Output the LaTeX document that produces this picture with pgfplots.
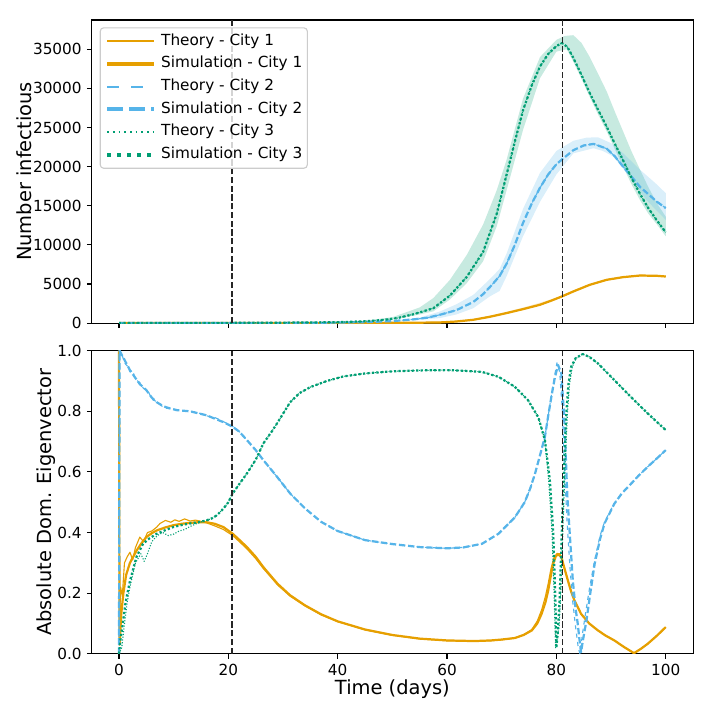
\documentclass[border=0pt]{standalone}
\usepackage{fontspec}
\setmainfont{DejaVu Sans}
\usepackage{pgfplots}
\usepackage{pgfplotstable}
\pgfplotsset{compat=1.18}
\usepgfplotslibrary{fillbetween}
\definecolor{cOra}{HTML}{E69F00}
\definecolor{cBlu}{HTML}{56B4E9}
\definecolor{cGrn}{HTML}{009E73}

% ---------- top panel: number infectious ----------
\pgfplotstableread{
t v
0 0
10 10
20 25
30 50
40 110
45 230
48 380
51 650
54 1150
57.5 1900
60.5 3500
63.6 5900
66.6 9100
69.1 14000
70.9 19000
72.4 23200
73.9 27200
75.5 30400
77.0 32800
78.5 34400
80.0 35400
81.0 35800
82.0 35300
83.1 33900
84.6 31700
86.1 29400
87.6 27300
89.2 25100
90.7 22900
92.2 20800
93.7 18600
95.3 16500
96.8 14700
98.4 13100
100 11600
}\gMean
\pgfplotstableread{
t v
0 0
40 130
45 300
50 750
55 2000
57.5 3200
60.5 5500
63.6 8700
66.6 12600
69.1 17000
70.9 20900
73.9 28700
77.0 34000
80.0 36200
81.5 36700
83.1 36800
84.6 35800
86.1 34000
87.6 31900
89.2 29600
90.7 27000
92.2 24500
93.7 22000
95.3 19600
96.8 17400
98.4 15300
100 13600
}\gUp
\pgfplotstableread{
t v
0 0
40 90
45 180
50 450
55 1100
57.5 1500
60.5 3000
63.6 5100
66.6 7900
69.1 12400
70.9 17000
73.9 24700
77.0 31300
80.0 34700
81.9 35000
83.1 33400
84.6 31200
86.1 28900
87.6 26700
89.2 24500
90.7 22200
92.2 20000
93.7 17800
95.3 15700
96.8 14000
98.4 12600
100 11100
}\gLo
\pgfplotstableread{
t v
0 0
10 5
20 10
30 25
40 60
45 120
50 250
54 480
56.5 700
58.7 1060
61.7 1650
64.8 2700
66.6 3700
68.1 4800
69.6 6000
70.9 7600
72.4 10000
73.9 12800
75.5 15300
77.0 17300
78.5 19000
80.0 20300
81.0 20900
83.1 22100
85.0 22700
86.8 22900
89.2 22300
90.7 21300
92.2 20000
95.3 17400
98.4 15500
100 14700
}\bMean
\pgfplotstableread{
t v
0 0
40 70
50 320
55 700
58.7 1480
61.7 2400
64.8 3600
67.8 5600
69.6 6900
70.9 8900
73.9 14600
77.0 19200
80.0 22000
83.1 23300
85.5 23700
87.6 23750
90.0 23000
92.2 21700
95.3 19600
98.4 17700
100 16600
}\bUp
\pgfplotstableread{
t v
0 0
40 50
50 200
55 420
58.7 640
61.7 1100
64.8 1900
67.8 3400
69.6 4100
70.9 6000
73.9 11100
77.0 15500
80.0 19000
83.1 21700
86.8 22350
88.5 22000
90.4 21300
93.4 18700
96.5 15700
100 13200
}\bLo
\pgfplotstableread{
t v
0 0
20 2
40 10
50 30
55 50
58.7 80
61.7 200
64.8 420
67.8 800
70.9 1280
74.0 1800
77.0 2340
79.0 2850
81.0 3400
83.1 4040
86.1 4890
89.2 5530
92.2 5870
95.3 6080
98.4 6040
100 5950
}\oMean
\pgfplotstableread{
t v
0 0
50 40
58.7 100
64.8 480
70.9 1450
74.0 2000
77.0 2600
80.0 3250
83.1 4200
86.1 5000
89.2 5600
92.2 5920
95.3 6120
100 6020
}\oUp
\pgfplotstableread{
t v
0 0
50 25
58.7 70
64.8 380
70.9 1230
74.0 1750
77.0 2280
80.0 3080
83.1 3980
86.1 4820
89.2 5470
92.2 5820
95.3 6030
100 5900
}\oLo

% ---------- bottom panel: absolute dominant eigenvector ----------
\pgfplotstableread{
t v
0 1.0
0.1 0.03
0.4 0.13
0.8 0.20
1.3 0.26
2.0 0.30
3.2 0.34
4.0 0.362
5.0 0.385
6.0 0.398
6.9 0.407
8.5 0.417
9.9 0.424
11.5 0.429
13.0 0.432
14.5 0.434
16.0 0.434
17.5 0.429
19.1 0.418
20.8 0.396
22.0 0.376
23.4 0.352
25.0 0.320
26.4 0.286
28.0 0.252
29.0 0.231
31.3 0.193
34 0.160
37 0.130
40 0.107
45 0.080
50 0.062
55 0.050
60 0.044
65 0.042
68 0.044
70 0.047
72.4 0.052
74 0.062
75.5 0.077
76.5 0.100
77.3 0.132
78.0 0.170
78.5 0.209
79.0 0.260
79.4 0.297
79.9 0.322
80.3 0.328
80.9 0.320
81.5 0.280
82.1 0.242
82.7 0.205
83.3 0.176
84.5 0.132
86 0.100
87.6 0.077
89 0.060
90.6 0.044
92.4 0.022
94.2 0.002
95.5 0.017
96.7 0.033
98.4 0.060
100 0.088
}\eOsim
\pgfplotstableread{
t v
0 1.0
0.1 0.10
0.3 0.22
0.6 0.19
1.0 0.30
1.5 0.32
2.0 0.335
2.5 0.31
3.0 0.35
3.8 0.385
4.5 0.37
5.2 0.40
6.0 0.405
6.9 0.418
7.5 0.43
8.5 0.44
9.5 0.434
10.2 0.442
11.0 0.437
12.0 0.445
13.0 0.438
14.0 0.441
15.0 0.437
16.0 0.432
17.5 0.422
19.1 0.41
20.8 0.39
22.0 0.37
23.4 0.346
25.0 0.314
26.4 0.281
28.0 0.248
29.0 0.227
31.3 0.19
34 0.158
37 0.128
40 0.106
45 0.079
50 0.061
55 0.049
60 0.043
65 0.041
68 0.043
70 0.046
72.4 0.052
74 0.063
75.5 0.080
76.5 0.108
77.3 0.145
78.0 0.190
78.5 0.232
79.0 0.280
79.5 0.315
80.1 0.331
80.6 0.330
80.9 0.320
81.5 0.280
82.1 0.242
82.7 0.205
83.3 0.176
84.5 0.132
86 0.100
87.6 0.077
89 0.060
90.6 0.044
92.4 0.022
94.2 0.002
95.5 0.017
96.7 0.033
98.4 0.060
100 0.088
}\eOth
\pgfplotstableread{
t v
0 0.0
0.1 1.0
0.7 0.98
2.0 0.936
3.0 0.91
3.8 0.89
5.0 0.87
6.0 0.845
6.9 0.83
8.0 0.818
8.7 0.813
10.5 0.804
13.0 0.80
16.0 0.787
19.0 0.765
20.8 0.749
22.0 0.733
23.4 0.705
25.0 0.672
26.4 0.639
28.0 0.604
28.9 0.584
31.3 0.529
34 0.48
37 0.435
40 0.405
45 0.375
50 0.362
55 0.352
60 0.348
63 0.351
66.4 0.363
69.4 0.396
72.4 0.45
74.2 0.50
75.2 0.545
76.1 0.595
77.0 0.655
77.9 0.716
78.5 0.785
79.1 0.85
79.7 0.91
80.3 0.953
80.9 0.925
81.4 0.79
81.7 0.66
82.0 0.52
82.5 0.38
83.0 0.242
83.5 0.15
83.9 0.10
84.2 0.05
84.5 0.005
85.0 0.06
85.5 0.11
86.2 0.20
87.0 0.297
88.0 0.38
88.8 0.43
90.6 0.495
92.0 0.53
93.6 0.56
95.0 0.587
96.7 0.617
98.4 0.645
100 0.672
}\eBsim
\pgfplotstableread{
t v
0 0.0
0.1 1.0
0.5 0.99
1.0 0.96
1.5 0.95
2.0 0.93
2.5 0.935
3.0 0.905
3.8 0.895
4.5 0.875
5.0 0.872
5.5 0.86
6.0 0.84
6.9 0.832
8.0 0.815
8.7 0.81
10.5 0.806
12 0.80
13.0 0.801
14.5 0.795
16.0 0.785
17.5 0.78
19.0 0.767
20.8 0.75
22.0 0.733
23.4 0.705
25.0 0.672
26.4 0.639
28.0 0.604
28.9 0.584
31.3 0.529
34 0.48
37 0.435
40 0.405
45 0.375
50 0.362
55 0.352
60 0.348
63 0.351
66.4 0.363
69.4 0.396
72.4 0.45
74.2 0.50
75.2 0.545
76.1 0.595
77.0 0.655
77.9 0.716
78.5 0.785
79.1 0.855
79.7 0.92
80.1 0.96
80.6 0.93
81.1 0.80
81.5 0.60
82.0 0.42
82.5 0.28
83.0 0.17
83.5 0.09
84.0 0.02
84.3 0.0
84.8 0.07
85.3 0.13
86.0 0.21
87.0 0.31
88.0 0.39
88.8 0.435
90.6 0.497
92.0 0.53
93.6 0.56
95.0 0.587
96.7 0.617
98.4 0.645
100 0.672
}\eBth
\pgfplotstableread{
t v
0 0.0
0.3 0.05
0.7 0.10
1.2 0.17
2.0 0.24
2.6 0.28
3.2 0.32
4.4 0.363
5.5 0.38
6.9 0.396
8.5 0.408
9.9 0.418
11.5 0.425
13.0 0.43
14.5 0.434
16.0 0.44
17.0 0.447
17.9 0.457
19.1 0.479
20.0 0.50
20.8 0.529
22.0 0.56
23.4 0.595
25.0 0.64
26.4 0.694
28.0 0.735
28.9 0.76
31.3 0.83
33 0.86
35 0.88
38 0.90
41 0.915
45 0.925
50 0.932
55 0.935
60 0.936
63 0.934
66.4 0.93
69.4 0.914
72.4 0.881
74.8 0.837
76.7 0.78
77.9 0.705
78.8 0.573
79.4 0.407
79.8 0.187
80.0 0.02
80.3 0.08
80.6 0.187
80.9 0.35
81.2 0.52
81.5 0.66
81.8 0.79
82.2 0.89
82.7 0.947
83.5 0.975
84.8 0.989
86 0.98
87.6 0.958
90.6 0.903
93.6 0.848
96.7 0.793
100 0.738
}\eGsim
\pgfplotstableread{
t v
0 0.0
0.5 0.02
1.0 0.10
1.5 0.17
2.0 0.22
3.0 0.30
4.0 0.33
4.6 0.305
5.2 0.33
6.0 0.37
7.0 0.39
8.0 0.40
9.0 0.39
10.0 0.395
11.0 0.405
12.0 0.41
13.0 0.42
14.0 0.428
15.0 0.435
16.0 0.44
17.0 0.447
17.9 0.457
19.1 0.479
20.0 0.50
20.8 0.529
22.0 0.56
23.4 0.595
25.0 0.64
26.4 0.694
28.0 0.735
28.9 0.76
31.3 0.83
33 0.86
35 0.88
38 0.90
41 0.915
45 0.925
50 0.932
55 0.935
60 0.936
63 0.934
66.4 0.93
69.4 0.914
72.4 0.881
74.8 0.837
76.7 0.78
77.9 0.705
78.6 0.57
79.2 0.40
79.6 0.187
79.85 0.02
80.5 0.09
80.8 0.20
81.1 0.36
81.4 0.52
81.7 0.66
82.0 0.79
82.4 0.89
82.9 0.947
83.6 0.975
84.8 0.989
86 0.98
87.6 0.958
90.6 0.903
93.6 0.848
96.7 0.793
100 0.738
}\eGth

\pgfplotsset{
  myaxis/.style={
    scale only axis, width=433pt, height=218.2pt,
    xmin=-5, xmax=105, xtick={0,20,40,60,80,100},
    tick align=outside, tick pos=left, major tick length=3.5pt,
    every tick/.style={black, line width=0.8pt},
    axis line style={line width=0.8pt, black},
    /pgf/number format/assume math mode=true,
    tick label style={font=\fontsize{11}{13}\selectfont},
    label style={font=\fontsize{14}{17}\selectfont},
    xticklabel style={anchor=north, inner sep=0pt, yshift=-3.7pt},
    yticklabel style={anchor=east, inner sep=0pt, xshift=-3.5pt},
  },
  thO/.style={color=cOra, line width=0.8pt, line join=round,
    legend image code/.code={\path[draw=cOra, draw opacity=1, line width=1.6pt, solid] (0pt,0.2pt) -- (34pt,0.2pt);}},
  siO/.style={color=cOra, line width=1.6pt, line join=round,
    legend image code/.code={\draw[draw=cOra, line width=2.9pt, solid] (0pt,0pt) -- (34pt,0pt);}},
  thB/.style={color=cBlu, line width=0.8pt, line join=round, dash pattern=on 3pt off 3pt,
    legend image code/.code={\draw[draw=cBlu, line width=1.2pt, dash pattern=on 8.4pt off 8.9pt] (0pt,0pt) -- (34pt,0pt);}},
  siB/.style={color=cBlu, line width=1.6pt, line join=round, dash pattern=on 4.6pt off 2pt,
    legend image code/.code={\draw[draw=cBlu, line width=2.9pt, dash pattern=on 11.1pt off 4.8pt] (0pt,0pt) -- (34pt,0pt);}},
  thG/.style={color=cGrn, line width=0.8pt, line join=round, dash pattern=on 0.8pt off 1.2pt,
    legend image code/.code={\draw[draw=cGrn, line width=1.2pt, dash pattern=on 1.2pt off 2.9pt] (0pt,0pt) -- (34pt,0pt);}},
  siG/.style={color=cGrn, line width=1.6pt, line join=round, dash pattern=on 1.6pt off 1.6pt,
    legend image code/.code={\draw[draw=cGrn, line width=2.9pt, dash pattern=on 2.9pt off 4.3pt] (0pt,0pt) -- (34pt,0pt);}},
  vref/.style={black!85, line width=1.2pt, dash pattern=on 4.4pt off 1.9pt, forget plot},
}

\begin{document}
\begin{tikzpicture}
\begin{axis}[myaxis,
  at={(0pt,0pt)}, anchor=north west,
  ymin=0, ymax=38740,
  ytick={0,5000,10000,15000,20000,25000,30000,35000},
  scaled y ticks=false,
  yticklabel style={/pgf/number format/1000 sep={}},
  xticklabels={},
  ylabel={Number infectious},
  ylabel style={at={(axis description cs:-0.1003,0.5)}, anchor=base},
  legend style={at={(0.0133,0.976)}, anchor=north west, draw=black!20, line width=0.8pt,
    rounded corners=2.5pt, fill=white, fill opacity=0.8, text opacity=1,
    font=\fontsize{11}{13}\selectfont, inner xsep=3.6pt, inner ysep=4.3pt, row sep=5.3pt,
    nodes={inner sep=0pt, text height=8.3pt, text depth=2.7pt},
    /tikz/every odd column/.append style={column sep=3.4pt},
    /tikz/every even column/.append style={column sep=5pt}},
  legend cell align=left,
]
% bands
\addplot[draw=none, name path=oU, forget plot] table[x=t,y=v] {\oUp};
\addplot[draw=none, name path=oL, forget plot] table[x=t,y=v] {\oLo};
\addplot[fill=cOra, fill opacity=0.22, draw=none, forget plot] fill between[of=oU and oL];
\addplot[draw=none, name path=gU, forget plot] table[x=t,y=v] {\gUp};
\addplot[draw=none, name path=gL, forget plot] table[x=t,y=v] {\gLo};
\addplot[fill=cGrn, fill opacity=0.22, draw=none, forget plot] fill between[of=gU and gL];
\addplot[draw=none, name path=bU, forget plot] table[x=t,y=v] {\bUp};
\addplot[draw=none, name path=bL, forget plot] table[x=t,y=v] {\bLo};
\addplot[fill=cBlu, fill opacity=0.22, draw=none, forget plot] fill between[of=bU and bL];
% lines
\addplot[thO] table[x=t,y=v] {\oMean};
\addlegendentry{Theory - City 1}
\addplot[siO] table[x=t,y=v] {\oMean};
\addlegendentry{Simulation - City 1}
\addplot[thB] table[x=t,y=v] {\bMean};
\addlegendentry{Theory - City 2}
\addplot[siB] table[x=t,y=v] {\bMean};
\addlegendentry{Simulation - City 2}
\addplot[thG] table[x=t,y=v] {\gMean};
\addlegendentry{Theory - City 3}
\addplot[siG] table[x=t,y=v] {\gMean};
\addlegendentry{Simulation - City 3}
\addplot[vref] coordinates {(20.7,0) (20.7,38740)};
\addplot[vref] coordinates {(81.1,0) (81.1,38740)};
\end{axis}

\begin{axis}[myaxis,
  at={(0pt,-238.1pt)}, anchor=north west,
  ymin=0, ymax=1,
  ytick={0,0.2,0.4,0.6,0.8,1},
  yticklabel style={/pgf/number format/.cd, fixed, fixed zerofill, precision=1},
  xticklabels={0,20,40,60,80,100},
  xlabel={Time (days)},
  xlabel style={at={(axis description cs:0.5,-0.1355)}, anchor=base},
  ylabel={Absolute Dom. Eigenvector},
  ylabel style={at={(axis description cs:-0.0666,0.5)}, anchor=base},
]
\addplot[thO] table[x=t,y=v] {\eOth};
\addplot[siO] table[x=t,y=v] {\eOsim};
\addplot[thB] table[x=t,y=v] {\eBth};
\addplot[siB] table[x=t,y=v] {\eBsim};
\addplot[thG] table[x=t,y=v] {\eGth};
\addplot[siG] table[x=t,y=v] {\eGsim};
\addplot[vref] coordinates {(20.7,0) (20.7,1)};
\addplot[vref] coordinates {(81.1,0) (81.1,1)};
\end{axis}
\pgfresetboundingbox
\path[use as bounding box] (-66.0pt,14.4pt) rectangle (453.1pt,-501.8pt);
\end{tikzpicture}
\end{document}
